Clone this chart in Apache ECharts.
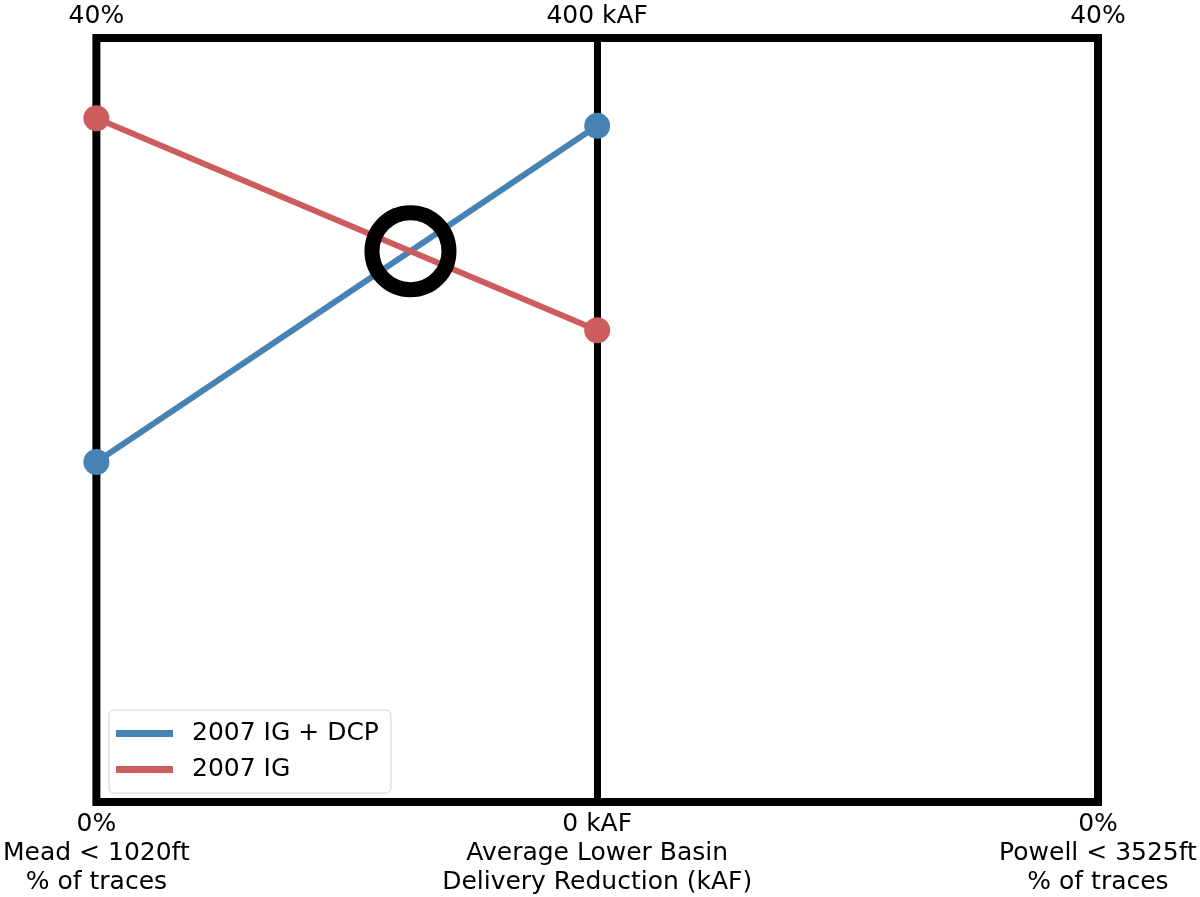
<!DOCTYPE html>
<html>
<head>
<meta charset="utf-8">
<script src="https://cdn.jsdelivr.net/npm/echarts@6/dist/echarts.min.js"></script>
<style>html,body{margin:0;padding:0;background:#fff;}#chart{width:1200px;height:897px;}</style>
</head>
<body>
<div id="chart"></div>
<script>
// Axes of the parallel plot
const axisNames = ['Mead < 1020ft\n% of traces', 'Average Lower Basin\nDelivery Reduction (kAF)', 'Powell < 3525ft\n% of traces'];
const axisMax = [40, 400, 40];
const topTickLabels = ['40%', '400 kAF', '40%'];
const bottomTickLabels = ['0%', '0 kAF', '0%'];

// Series values: [Mead %, Delivery reduction kAF]
const seriesNames = ['2007 IG + DCP', '2007 IG'];
const igDcpValues = [17.8, 354];
const igValues = [35.8, 247];
const seriesColors = ['#4682b4', '#cd5c5c'];

// Normalise each value by its own axis range (parallel-coordinate scale)
function toPoints(vals) {
  return vals.map((v, i) => [i, v / axisMax[i]]);
}
const bluePts = toPoints(igDcpValues);
const redPts = toPoints(igValues);

// crossing point of the two polylines (between axis 0 and 1)
function crossing(a, b) {
  const da = a[1][1] - a[0][1], db = b[1][1] - b[0][1];
  const t = (b[0][1] - a[0][1]) / (da - db);
  return [a[0][0] + t * (a[1][0] - a[0][0]), a[0][1] + t * da];
}
const cross = crossing(bluePts, redPts);

const font = 'DejaVu Sans';
const chart = echarts.init(document.getElementById('chart'));
chart.setOption({
  animation: false,
  backgroundColor: '#fff',
  grid: {
    left: 96, right: 102, top: 38, bottom: 94,
    show: true, borderColor: '#000', borderWidth: 8, backgroundColor: 'transparent'
  },
  xAxis: [
    {
      type: 'value', position: 'bottom', min: 0, max: 2, interval: 1,
      axisLine: { show: false }, axisTick: { show: false },
      splitLine: { show: true, lineStyle: { color: '#000', width: 7 } },
      axisLabel: {
        show: true, showMinLabel: true, showMaxLabel: true,
        margin: 8, color: '#000', fontFamily: font, fontSize: 25, lineHeight: 29,
        formatter: v => bottomTickLabels[v] + '\n' + axisNames[v]
      }
    },
    {
      type: 'value', position: 'top', min: 0, max: 2, interval: 1,
      axisLine: { show: false }, axisTick: { show: false }, splitLine: { show: false },
      axisLabel: {
        show: true, showMinLabel: true, showMaxLabel: true,
        margin: 7, color: '#000', fontFamily: font, fontSize: 25, lineHeight: 29,
        formatter: v => topTickLabels[v]
      }
    }
  ],
  yAxis: { type: 'value', min: 0, max: 1, show: false },
  legend: {
    orient: 'vertical', left: 109, top: 710,
    data: seriesNames,
    icon: 'rect', itemWidth: 57, itemHeight: 7, itemGap: 7,
    padding: [9, 12, 9, 7],
    borderColor: '#d0d0d0', borderWidth: 1, borderRadius: 5,
    backgroundColor: '#fff',
    textStyle: { color: '#000', fontFamily: font, fontSize: 25, lineHeight: 29, padding: [0, 0, 0, 14] }
  },
  series: [
    {
      name: seriesNames[0], type: 'line', data: bluePts, clip: false,
      symbol: 'circle', symbolSize: 26, color: seriesColors[0],
      lineStyle: { width: 6, color: seriesColors[0] },
      itemStyle: { color: seriesColors[0] }, z: 3
    },
    {
      name: seriesNames[1], type: 'line', data: redPts, clip: false,
      symbol: 'circle', symbolSize: 26, color: seriesColors[1],
      lineStyle: { width: 6, color: seriesColors[1] },
      itemStyle: { color: seriesColors[1] }, z: 3
    },
    {
      type: 'scatter', data: [cross], symbol: 'circle', symbolSize: 77,
      itemStyle: { color: 'rgba(0,0,0,0)', borderColor: '#000', borderWidth: 15, opacity: 1 },
      z: 5, silent: true
    }
  ]
});
</script>
</body>
</html>
